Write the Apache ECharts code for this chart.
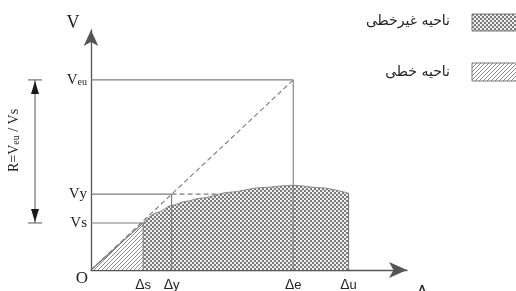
<!DOCTYPE html>
<html>
<head>
<meta charset="utf-8">
<script src="https://cdn.jsdelivr.net/npm/echarts@6/dist/echarts.min.js"></script>
<style>
  html, body { margin: 0; padding: 0; background: #fff; }
  #main { width: 516px; height: 291px; }
</style>
</head>
<body>
<div id="main"></div>
<script>
// displacement marks on the horizontal axis
const dispNames = ['Δs', 'Δy', 'Δe', 'Δu']
const dispValues = [16.5, 25.5, 64, 81.5]
// shear levels on the vertical axis
const shearNames = ['Vs', 'Vy', 'Veu']
const shearValues = [19.6, 31.6, 79.2]
// nonlinear capacity curve, from Δs to Δu
const curveX = [16.5, 21, 25.5, 30, 34.5, 44, 53.5, 64, 72.5, 81.5]
const curveY = [19.6, 24.0, 26.9, 28.6, 29.9, 32.4, 34.3, 35.3, 34.3, 32.0]
// where the dashed Vy line meets the curve
const vyDashEnd = 40
const legendNames = ['ناحیه غیرخطی', 'ناحیه خطی']

const [dS, dY, dE, dU] = dispValues
const [vS, vY, vEu] = shearValues

function makeTile (size, draw) {
  const c = document.createElement('canvas')
  c.width = size
  c.height = size
  draw(c.getContext('2d'))
  return c
}

// checkered cross hatch for the nonlinear zone
const crossTile = makeTile(4, ctx => {
  ctx.fillStyle = '#7a7a7a'
  ctx.fillRect(0, 0, 4, 4)
  ctx.fillStyle = '#fff'
  ;[[1, 1], [3, 3]].forEach(([x, y]) => {
    ctx.beginPath()
    ctx.arc(x, y, 1.1, 0, Math.PI * 2)
    ctx.fill()
  })
})

// single diagonal hatch for the linear zone
const hatchTile = makeTile(4, ctx => {
  ctx.fillStyle = '#fff'
  ctx.fillRect(0, 0, 4, 4)
  ctx.fillStyle = '#8a8a8a'
  for (let i = 0; i < 4; i++) ctx.fillRect(i, 3 - i, 1, 1)
})

const crossFill = { image: crossTile, repeat: 'repeat' }
const hatchFill = { image: hatchTile, repeat: 'repeat' }

const lineColor = '#7c7c7c'
const serif = 'Liberation Serif'

const seg = (pts, dashed) => ({
  type: 'line',
  data: pts,
  symbol: 'none',
  silent: true,
  z: 5,
  lineStyle: { color: lineColor, width: 1.1, type: dashed ? [5, 3] : 'solid' }
})

const chart = echarts.init(document.getElementById('main'), null, { renderer: 'canvas' })

chart.setOption({
  animation: false,
  backgroundColor: '#fff',
  grid: { left: 91, right: 109, top: 30, bottom: 21, containLabel: false, outerBoundsMode: 'none' },
  xAxis: {
    type: 'value',
    min: 0,
    max: 100,
    splitLine: { show: false },
    axisTick: { show: false },
    axisLine: {
      symbol: ['none', 'arrow'],
      symbolSize: [12, 18],
      lineStyle: { color: '#555', width: 1.3 }
    },
    axisLabel: {
      customValues: dispValues,
      margin: 8,
      formatter: v => {
        const n = dispNames[dispValues.indexOf(v)] || ''
        return '{d|Δ}{s|' + n.slice(1) + '}'
      },
      rich: {
        d: { fontFamily: 'Liberation Sans', fontSize: 14, color: '#222' },
        s: { fontFamily: 'Liberation Sans', fontSize: 13, color: '#222' }
      }
    }
  },
  yAxis: {
    type: 'value',
    min: 0,
    max: 100,
    splitLine: { show: false },
    axisTick: { show: false },
    axisLine: {
      symbol: ['none', 'arrow'],
      symbolSize: [11, 16],
      lineStyle: { color: '#555', width: 1.3 }
    },
    axisLabel: {
      customValues: shearValues,
      margin: 4,
      formatter: v => {
        const n = shearNames[shearValues.indexOf(v)] || ''
        return n.length > 2 ? '{v|V}{u|' + n.slice(1) + '}' : '{v|V}{w|' + n.slice(1) + '}'
      },
      rich: {
        v: { fontFamily: serif, fontSize: 15, color: '#222' },
        w: { fontFamily: serif, fontSize: 15, color: '#222' },
        u: { fontFamily: serif, fontSize: 10, color: '#222', padding: [4, 0, 0, 0] }
      }
    }
  },
  series: [
    {
      type: 'line',
      data: curveX.map((x, i) => [x, curveY[i]]),
      smooth: 0.3,
      smoothMonotone: 'x',
      symbol: 'none',
      silent: true,
      z: 3,
      lineStyle: { color: '#8a8a8a', width: 1 },
      areaStyle: { color: crossFill, opacity: 1 }
    },
    {
      type: 'line',
      data: [[0, 0], [dS, vS]],
      symbol: 'none',
      silent: true,
      z: 3,
      lineStyle: { color: '#777', width: 1.1 },
      areaStyle: { color: hatchFill, opacity: 1 }
    },
    seg([[0, 0], [dE, vEu]], true),
    seg([[0, vEu], [dE, vEu]]),
    seg([[dE, 0], [dE, vEu]]),
    seg([[0, vY], [dY, vY]]),
    seg([[dY, vY], [vyDashEnd, vY]], true),
    seg([[dY, 0], [dY, vY]]),
    seg([[0, vS], [dS, vS]]),
    seg([[dS, 0], [dS, vS]]),
    seg([[dU, 0], [dU, curveY[curveY.length - 1]]])
  ]
})

// the R = Veu / Vs dimension arrow and loose labels
const yTop = chart.convertToPixel({ gridIndex: 0 }, [0, vEu])[1]
const yBot = chart.convertToPixel({ gridIndex: 0 }, [0, vS])[1]
const ax = 35
const dark = '#1a1a1a'

chart.setOption({
  graphic: [
    { type: 'line', shape: { x1: ax, y1: yTop, x2: ax, y2: yBot }, style: { stroke: '#555', lineWidth: 1 } },
    { type: 'line', shape: { x1: ax - 7, y1: yTop, x2: ax + 7, y2: yTop }, style: { stroke: '#555', lineWidth: 1 } },
    { type: 'line', shape: { x1: ax - 7, y1: yBot, x2: ax + 7, y2: yBot }, style: { stroke: '#555', lineWidth: 1 } },
    { type: 'polygon', shape: { points: [[ax, yTop + 1], [ax - 4, yTop + 14], [ax + 4, yTop + 14]] }, style: { fill: dark } },
    { type: 'polygon', shape: { points: [[ax, yBot - 1], [ax - 4, yBot - 14], [ax + 4, yBot - 14]] }, style: { fill: dark } },
    {
      type: 'text',
      x: 14,
      y: (yTop + yBot) / 2 - 11,
      rotation: Math.PI / 2,
      style: {
        text: '{a|R=V}{b|eu}{a| / Vs}',
        align: 'center',
        verticalAlign: 'middle',
        rich: {
          a: { fontFamily: serif, fontSize: 14, fill: '#222' },
          b: { fontFamily: serif, fontSize: 10, fill: '#222', padding: [4, 0, 0, 0] }
        }
      }
    },
    { type: 'text', x: 73, y: 23, style: { text: 'V', fontFamily: serif, fontSize: 18, fill: '#222', align: 'center', verticalAlign: 'middle' } },
    { type: 'text', x: 82, y: 279, style: { text: 'O', fontFamily: serif, fontSize: 17, fill: '#222', align: 'center', verticalAlign: 'middle' } },
    { type: 'text', x: 422, y: 285, style: { text: 'Δ', fontFamily: 'Liberation Sans', fontSize: 16, fill: '#222', align: 'center', verticalAlign: 'top' } },
    { type: 'rect', shape: { x: 472, y: 14, width: 50, height: 17 }, style: { fill: crossFill, stroke: '#777', lineWidth: 1 } },
    { type: 'rect', shape: { x: 472, y: 63, width: 50, height: 18 }, style: { fill: hatchFill, stroke: '#777', lineWidth: 1 } },
    { type: 'text', x: 450, y: 21, style: { text: legendNames[0], fontFamily: 'DejaVu Sans', fontSize: 14, fill: '#222', align: 'right', verticalAlign: 'middle' } },
    { type: 'text', x: 450, y: 72, style: { text: legendNames[1], fontFamily: 'DejaVu Sans', fontSize: 14, fill: '#222', align: 'right', verticalAlign: 'middle' } }
  ]
})
</script>
</body>
</html>
